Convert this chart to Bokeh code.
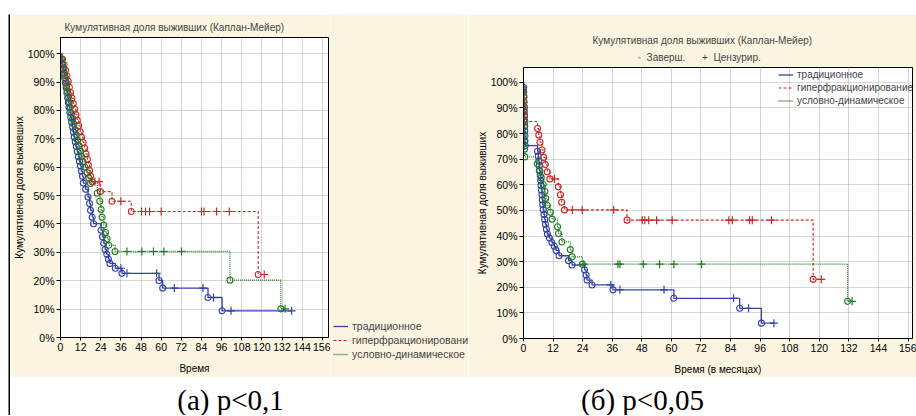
from bokeh.plotting import figure
from bokeh.models import Range1d, FixedTicker, Legend, LegendItem, Title
from bokeh.layouts import column, row
from bokeh.embed import file_html
from bokeh.resources import INLINE
from bokeh.core.properties import value

# ---------------- data ----------------
x_ticks = [0, 12, 24, 36, 48, 60, 72, 84, 96, 108, 120, 132, 144, 156]
y_ticks = [0, 10, 20, 30, 40, 50, 60, 70, 80, 90, 100]
y_tick_labels = ["0%", "10%", "20%", "30%", "40%", "50%", "60%", "70%", "80%", "90%", "100%"]
group_names = ["традиционное", "гиперфракционирование", "условно-динамическое"]
title_text = "Кумулятивная доля выживших (Каплан-Мейер)"
marker_note = "\u25e6\u00a0\u00a0Заверш.\u00a0\u00a0\u00a0\u00a0\u00a0\u00a0+\u00a0\u00a0Цензурир."
y_label = "Кумулятивная доля выживших"
x_label_a = "Время"
x_label_b = "Время (в месяцах)"
captions = ["(а) p<0,1", "(б) p<0,05"]

# panel (а): event times (months) and survival after event (%), censored times
a_trad_t = [0.4, 0.9, 1.4, 2.0, 2.5, 3.0, 3.4, 3.8, 4.3, 4.7, 5.1, 5.6, 6.1, 6.6, 7.2, 7.7,
            8.2, 8.8, 9.4, 10.0, 10.7, 11.3, 11.9, 12.5, 13.1, 13.6, 15.0, 16.4, 17.3, 17.9,
            18.9, 19.7, 24.2, 25.0, 25.8, 26.6, 27.6, 28.6, 29.4, 32.7, 36.6, 58.7, 60.9,
            87.9, 96.3]
a_trad_s = [98.3, 96.5, 94.8, 93.2, 91.4, 89.6, 88.0, 86.2, 84.4, 82.8, 81.1, 79.3, 77.5, 75.9,
            74.2, 72.4, 70.6, 69.0, 67.3, 65.5, 63.7, 62.1, 60.4, 58.6, 56.8, 54.4, 52.2, 49.5,
            47.2, 44.8, 42.4, 40.1, 37.8, 35.5, 33.2, 31.0, 29.3, 27.6, 26.1, 24.4, 22.6, 20.1,
            17.4, 14.1, 9.4]
a_trad_c = [36.0, 39.6, 57.3, 67.8, 84.9, 91.2, 101.6, 137.7]

a_hyper_t = [1.2, 2.2, 3.0, 3.8, 4.6, 5.3, 6.0, 6.8, 7.6, 8.4, 9.2, 10.0, 10.8, 11.7, 12.6,
             13.5, 14.4, 15.2, 16.0, 16.6, 17.3, 17.9, 18.9, 23.8, 30.7, 42.2, 117.8]
a_hyper_s = [98.0, 96.1, 94.2, 92.2, 90.3, 88.2, 86.3, 84.4, 82.4, 80.4, 78.5, 76.5, 74.6, 72.5,
             70.6, 68.7, 66.7, 64.7, 62.8, 60.8, 58.8, 56.9, 54.9, 51.4, 48.0, 44.4, 22.2]
a_hyper_c = [20.5, 23.0, 36.0, 48.3, 50.7, 53.1, 60.0, 84.0, 85.5, 93.0, 100.6, 121.4]

a_cond_t = [0.7, 1.3, 1.9, 2.5, 3.1, 3.7, 4.2, 4.8, 5.3, 5.9, 6.6, 7.3, 8.0, 8.7, 9.4, 10.2,
            11.0, 11.8, 12.6, 13.4, 14.6, 15.8, 16.9, 17.9, 21.9, 23.4, 24.2, 24.8, 25.8, 26.8,
            27.8, 28.8, 32.5, 101.0, 131.3]
a_cond_s = [98.1, 96.2, 94.3, 92.4, 90.5, 88.6, 86.7, 84.8, 82.9, 81.0, 79.0, 77.1, 75.2, 73.3,
            71.4, 69.5, 67.6, 65.7, 63.8, 61.9, 60.0, 58.1, 56.2, 54.3, 50.8, 48.0, 45.1, 42.4,
            39.6, 37.0, 34.8, 32.5, 30.3, 20.2, 10.1]
a_cond_c = [39.6, 48.5, 55.4, 61.6, 72.1, 133.8]

# panel (б)
b_trad_t = [0.1, 0.1, 0.2, 0.2, 0.3, 0.3, 0.4, 0.4, 0.5, 0.5, 0.6, 0.6, 0.7, 5.7, 6.0, 6.2,
            6.4, 6.6, 6.8, 7.0, 7.1, 7.3, 7.5, 7.6, 7.8, 8.0, 8.3, 8.6, 8.9, 9.3, 9.7, 10.5,
            11.5, 12.5, 13.2, 14.4, 18.3, 19.7, 24.8, 25.4, 25.8, 27.8, 36.3, 61.0, 87.7, 96.5]
b_trad_s = [98.1, 96.2, 94.3, 92.4, 90.5, 88.6, 86.7, 84.8, 82.9, 81.0, 79.1, 77.2, 75.3, 73.1,
            71.2, 69.3, 67.4, 65.5, 63.6, 61.7, 59.8, 57.9, 56.0, 54.1, 52.2, 50.3, 48.4, 46.5,
            44.6, 42.7, 40.8, 39.2, 37.5, 36.0, 34.4, 32.3, 30.4, 28.7, 26.8, 24.8, 22.8, 20.9,
            19.0, 15.7, 11.8, 6.0]
b_trad_c = [35.4, 39.1, 57.0, 85.2, 91.3, 101.6]

b_hyper_t = [0.0, 0.1, 0.2, 0.3, 0.4, 0.5, 5.7, 6.2, 6.7, 7.5, 8.2, 8.9, 9.6, 10.7, 14.1, 15.0,
             15.5, 16.6, 42.0, 117.5]
b_hyper_s = [97.4, 94.9, 92.3, 89.8, 87.2, 84.7, 82.0, 79.4, 76.6, 73.6, 70.7, 67.9, 65.1, 62.3,
             59.2, 56.1, 53.2, 50.2, 46.2, 23.1]
b_hyper_c = [12.6, 19.8, 23.8, 36.6, 48.2, 49.2, 50.8, 54.0, 60.3, 83.3, 84.7, 91.7, 92.8,
             100.6, 120.8]

b_cond_t = [0.0, 0.1, 0.1, 0.2, 0.2, 0.3, 0.3, 0.4, 0.4, 0.5, 5.6, 6.4, 7.2, 8.0, 8.7, 9.0,
            9.6, 10.9, 11.6, 13.8, 14.2, 15.6, 19.0, 19.7, 23.9, 131.5]
b_cond_s = [97.1, 94.2, 91.3, 88.4, 85.5, 82.6, 79.7, 76.8, 73.9, 70.9, 68.2, 65.5, 62.8, 60.1,
            57.4, 54.7, 52.0, 49.3, 46.6, 43.6, 41.0, 37.7, 34.7, 31.9, 29.0, 14.5]
b_cond_c = [24.5, 38.3, 39.1, 48.6, 55.2, 61.0, 72.2, 133.3]

# ---------------- style ----------------
FONT = "Liberation Sans"
SERIF = value("Liberation Serif")
CREAM = "#FBF4E1"
colors = ["#3442A6", "#CC2424", "#217A21"]
dashes = ["solid", "3 2", "1 1"]
widths = [1.3, 1.1, 1.3]


def km_path(ev_t, ev_s, cens_t):
    xs, ys, cur = [0.0], [100.0], 100.0
    for t, s in zip(ev_t, ev_s):
        xs += [t, t]
        ys += [cur, s]
        cur = s
    end = max(list(ev_t) + list(cens_t))
    if end > xs[-1]:
        xs.append(end)
        ys.append(cur)
    return xs, ys


def level_at(ev_t, ev_s, t):
    cur = 100.0
    for et, es in zip(ev_t, ev_s):
        if et <= t:
            cur = es
    return cur


def make_legend(items, loc, row_h, font_size):
    return Legend(items=items, location=loc, padding=0, margin=0, spacing=0,
                  label_height=row_h, glyph_height=row_h, glyph_width=15, label_standoff=4,
                  label_text_font=FONT, label_text_font_size=font_size,
                  border_line_color=None, background_fill_alpha=0)


def make_panel(width, height, borders, x_end, y_end, series, xlabel, title_offset,
               title_standoff, ylab_standoff, sub_offset=None):
    bl, br, bt, bb = borders
    p = figure(width=width, height=height, x_range=Range1d(0, x_end), y_range=Range1d(0, y_end),
               output_backend="svg", toolbar_location=None,
               min_border_left=bl, min_border_right=br, min_border_top=bt, min_border_bottom=bb,
               background_fill_color="white", border_fill_color=CREAM,
               outline_line_color="black", outline_line_width=1)
    p.title.text = title_text
    p.title.align = "left"
    p.title.offset = title_offset
    p.title.text_font = FONT
    p.title.text_font_size = "10px"
    p.title.text_font_style = "normal"
    p.title.standoff = title_standoff
    if sub_offset is not None:
        p.add_layout(Title(text=marker_note, align="left", offset=sub_offset, standoff=9,
                           text_font=FONT, text_font_size="10px", text_font_style="normal"),
                     "above")

    p.xaxis.ticker = FixedTicker(ticks=x_ticks)
    p.yaxis.ticker = FixedTicker(ticks=y_ticks)
    p.yaxis.major_label_overrides = {t: lab for t, lab in zip(y_ticks, y_tick_labels)}
    for ax in (p.xaxis[0], p.yaxis[0]):
        ax.axis_line_color = "black"
        ax.major_tick_line_color = "black"
        ax.minor_tick_line_color = None
        ax.major_label_text_font = FONT
        ax.major_label_text_color = "black"
        ax.axis_label_text_font = FONT
        ax.axis_label_text_font_size = "10px"
        ax.axis_label_text_font_style = "normal"
        ax.axis_label_text_color = "black"
    p.xaxis.major_tick_in = 0
    p.xaxis.major_tick_out = 3
    p.xaxis.major_label_standoff = 2
    p.xaxis.major_label_text_font_size = "10.5px"
    p.xaxis.axis_label = xlabel
    p.xaxis.axis_label_standoff = 9
    p.yaxis.major_tick_in = 0
    p.yaxis.major_tick_out = 4
    p.yaxis.major_label_standoff = 2
    p.yaxis.major_label_text_font_size = "10.5px"
    p.yaxis.axis_label = y_label
    p.yaxis.axis_label_standoff = ylab_standoff

    p.xgrid.ticker = FixedTicker(ticks=x_ticks)
    p.ygrid.ticker = FixedTicker(ticks=y_ticks)
    p.grid.grid_line_color = "#ABABAB"
    p.grid.grid_line_dash = "1 1"
    p.grid.grid_line_width = 1

    line_rs = []
    for (ev_t, ev_s, cens_t), col, dash, lw in zip(series, colors, dashes, widths):
        xs, ys = km_path(ev_t, ev_s, cens_t)
        line_rs.append(p.line(xs, ys, line_color=col, line_width=lw, line_dash=dash))
    for (ev_t, ev_s, cens_t), col in zip(series, colors):
        p.scatter(ev_t, ev_s, marker="circle", size=6, line_color=col, fill_color=None,
                  line_width=1.1)
        cy = [level_at(ev_t, ev_s, t) for t in cens_t]
        p.scatter(cens_t, cy, marker="cross", size=8, line_color=col, line_width=1.2)
    return p, line_rs


series_a = [(a_trad_t, a_trad_s, a_trad_c), (a_hyper_t, a_hyper_s, a_hyper_c),
            (a_cond_t, a_cond_s, a_cond_c)]
series_b = [(b_trad_t, b_trad_s, b_trad_c), (b_hyper_t, b_hyper_s, b_hyper_c),
            (b_cond_t, b_cond_s, b_cond_c)]

pa, _ = make_panel(320, 363, (48, 2, 23, 40), 159.7, 105.7, series_a, x_label_a, 4, 10, 0)
pb, b_lines = make_panel(448, 363, (55, 4, 53, 39), 157.8, 105.8, series_b, x_label_b, 69, 0, 0,
                         sub_offset=114)
pb.add_layout(make_legend([LegendItem(label=n, renderers=[r])
                           for n, r in zip(group_names, b_lines)], (255, 231), 13, "10px"))

# legend of panel (а), drawn beside its plot frame (series lie outside this view)
la = figure(width=138, height=363, x_range=Range1d(-20, -10), y_range=Range1d(0, 1),
            output_backend="svg", toolbar_location=None, min_border=0, title=None,
            x_axis_type=None, y_axis_type=None, background_fill_color=CREAM,
            border_fill_color=CREAM, outline_line_color=None)
la.grid.visible = False
a_leg_items = []
for (ev_t, ev_s, cens_t), n, col, dash, lw in zip(series_a, group_names, colors, dashes, widths):
    xs, ys = km_path(ev_t, ev_s, cens_t)
    r = la.line(xs, ys, line_color=col, line_width=lw, line_dash=dash)
    a_leg_items.append(LegendItem(label=n, renderers=[r]))
la.add_layout(make_legend(a_leg_items, (3, 16), 14, "10.5px"))


def strip(w, h, color):
    s = figure(width=w, height=h, output_backend="svg", toolbar_location=None, min_border=0,
               title=None, x_axis_type=None, y_axis_type=None,
               x_range=Range1d(0, 1), y_range=Range1d(0, 1),
               background_fill_color=color, border_fill_color=color, outline_line_color=None)
    s.grid.visible = False
    return s


cap = figure(width=906, height=38, x_range=Range1d(0, 906), y_range=Range1d(0, 38),
             output_backend="svg", toolbar_location=None, min_border=0, title=None,
             x_axis_type=None, y_axis_type=None, background_fill_color="white",
             border_fill_color="white", outline_line_color=None)
cap.grid.visible = False
cap.text(x=[220, 632], y=[16, 16], text=captions, text_font=SERIF, text_font_size="29px",
         text_align="center", text_baseline="middle", text_color="black")

panels = row(column(pa), column(la), column(pb))
framed = column(strip(908, 2, "black"),
                row(strip(2, 401, "black"), column(panels, cap)))
layout = column(strip(916, 12, "white"), row(strip(8, 403, "white"), framed))

open("out.html", "w").write(file_html(layout, INLINE))
